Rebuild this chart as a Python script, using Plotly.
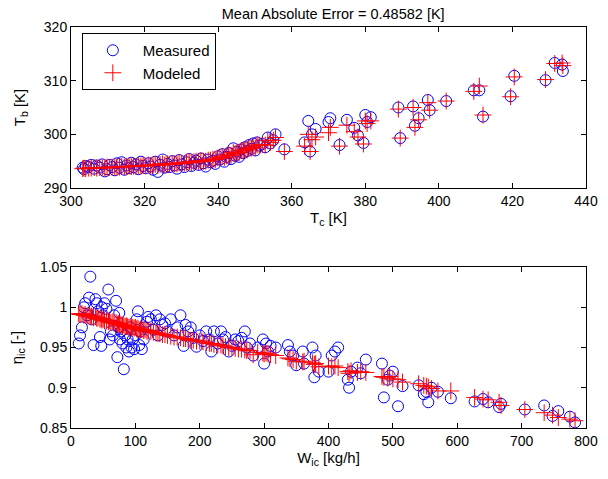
import plotly.graph_objects as go
from plotly.subplots import make_subplots

# top subplot: charge-air temperature vs. boost temperature
tc = [303.2, 303.5, 304.0, 304.8, 305.5, 306.3, 307.0, 307.8, 308.5, 309.2, 309.8, 310.5,
      311.2, 311.9, 312.5, 313.2, 313.8, 314.5, 315.1, 315.8, 316.4, 317.0, 317.7, 318.3,
      319.0, 319.6, 320.3, 321.0, 321.6, 322.3, 322.9, 323.6, 324.2, 324.9, 325.5, 326.2,
      326.8, 327.5, 328.1, 328.8, 329.4, 330.1, 330.8, 331.4, 332.1, 332.7, 333.4, 334.0,
      334.7, 335.3, 336.0, 336.6, 337.3, 337.9, 338.6, 339.2, 339.9, 340.5, 341.1, 341.7,
      342.3, 342.9, 343.5, 344.1, 344.6, 345.2, 345.7, 346.3, 346.8, 347.3, 347.9, 348.4,
      349.0, 349.5, 350.1, 350.6, 351.2, 352.0, 352.8, 353.5, 354.2, 355.0, 355.6,
      358.0, 363.5, 364.5, 365.0, 365.5, 366.5, 370.0, 370.5, 373.0, 375.0, 377.0, 378.0,
      379.5, 380.0, 380.5, 381.5, 389.0, 389.5, 393.0, 393.5, 394.5, 397.0, 397.5, 402.0,
      409.5, 411.0, 412.0, 419.5, 420.5, 429.0, 431.5, 433.5, 433.7]
tb_meas = [293.8, 293.5, 294.1, 293.9, 294.3, 293.6, 294.2, 293.8, 294.4, 293.1, 293.5, 294.3,
           293.9, 293.3, 294.6, 293.8, 294.8, 293.4, 294.2, 293.7, 294.7, 293.9, 294.4, 293.5,
           294.9, 294.1, 293.7, 294.6, 294.0, 293.4, 294.9, 293.0, 294.3, 295.3, 293.8, 294.5,
           293.9, 295.0, 294.2, 293.6, 295.2, 294.4, 293.9, 294.8, 295.4, 294.1, 294.7, 295.1,
           294.3, 295.5, 294.6, 294.0, 295.3, 294.8, 295.1, 294.5, 295.9, 295.3, 296.3, 294.9,
           295.8, 296.5, 295.4, 297.4, 296.0, 296.8, 295.8, 297.2, 296.5, 297.6, 296.9, 298.0,
           297.3, 298.3, 297.0, 298.5, 297.9, 298.2, 297.6, 299.4, 298.3, 298.9, 300.0,
           297.2, 298.5, 302.5, 296.8, 300.0, 301.0, 302.3, 303.0, 298.0, 302.7, 301.2, 299.8,
           298.4, 303.6, 302.3, 303.2, 305.0, 299.3, 305.2, 301.6, 303.0, 306.4, 304.5, 306.2,
           308.2, 308.2, 303.3, 307.1, 310.9, 310.1, 313.3, 313.0, 311.8]
tb_mod = [293.6, 293.7, 293.6, 293.7, 293.7, 293.8, 293.7, 293.8, 293.8, 293.7, 293.9, 293.8,
          293.9, 293.8, 294.0, 293.9, 294.0, 293.9, 294.0, 294.1, 294.0, 294.1, 294.0, 294.2,
          294.1, 294.2, 294.1, 294.3, 294.2, 294.2, 294.4, 294.2, 294.4, 294.5, 294.3, 294.5,
          294.4, 294.6, 294.5, 294.5, 294.7, 294.6, 294.6, 294.8, 294.9, 294.7, 294.9, 295.0,
          294.9, 295.1, 295.0, 295.0, 295.2, 295.2, 295.4, 295.3, 295.6, 295.6, 295.9, 295.7,
          296.0, 296.2, 296.1, 296.6, 296.4, 296.7, 296.6, 297.0, 296.9, 297.2, 297.1, 297.5,
          297.4, 297.8, 297.5, 298.0, 297.9, 298.1, 298.0, 298.8, 298.5, 298.9, 299.4,
          296.8, 297.8, 300.0, 296.8, 299.0, 299.5, 300.3, 301.3, 297.8, 301.7, 300.5, 299.5,
          298.2, 302.5, 302.0, 302.5, 304.7, 299.3, 305.0, 301.3, 302.7, 305.9, 304.5, 306.2,
          308.0, 309.0, 303.6, 307.0, 310.7, 310.2, 313.2, 313.3, 312.8]

# bottom subplot: intercooler mass flow vs. efficiency
w_ic = [12, 14, 17, 20, 22, 25, 28, 30, 32, 35, 38, 40, 42, 45, 47, 48, 50, 52, 55, 58,
        60, 62, 65, 67, 70, 72, 74, 75, 76, 78, 80, 82, 84, 86, 88, 90, 92, 94, 96, 98,
        100, 102, 104, 106, 108, 110, 113, 115, 118, 120, 124, 128, 132, 135, 138, 142, 146,
        150, 155, 160, 165, 170, 175, 178, 182, 186, 190, 195, 200, 205, 210, 215, 218, 222,
        228, 233, 236, 240, 245, 250, 255, 260, 265, 270, 273, 278, 283, 290, 298, 300, 303,
        306, 310, 318, 337, 340, 345, 350, 360, 362, 375, 378, 380, 385, 400, 405, 410, 415,
        430, 432, 435, 445, 450, 458, 483, 486, 492, 495, 500, 508, 515, 540, 548, 552, 555,
        560, 570, 590, 627, 640, 648, 665, 668, 705, 735, 748, 757, 775, 783]
eta_meas = [0.955, 0.965, 0.975, 1.0, 1.005, 0.99, 1.012, 1.038, 0.985, 0.953, 1.01, 1.005,
            0.995, 0.963, 0.952, 1.0, 0.99, 1.005, 0.998, 1.022, 0.96, 0.97, 0.965, 0.99,
            1.008, 0.938, 0.975, 0.993, 0.96, 0.97, 0.955, 0.923, 0.965, 0.95, 0.96, 0.945,
            0.975, 0.95, 0.96, 0.948, 0.965, 0.985, 0.995, 0.953, 0.97, 0.948, 0.96, 0.975,
            0.982, 0.988, 0.985, 0.972, 0.99, 0.965, 0.985, 0.978, 0.98, 0.97, 0.985, 0.965,
            0.975, 0.99, 0.952, 0.978, 0.97, 0.975, 0.962, 0.951, 0.965, 0.958, 0.97, 0.96,
            0.945, 0.97, 0.955, 0.97, 0.96, 0.963, 0.945, 0.952, 0.96, 0.958, 0.962, 0.97,
            0.95, 0.955, 0.94, 0.95, 0.96, 0.93, 0.955, 0.945, 0.952, 0.95, 0.953, 0.945,
            0.94, 0.928, 0.945, 0.93, 0.95, 0.913, 0.94, 0.92, 0.92, 0.94, 0.945, 0.95,
            0.91, 0.9, 0.92, 0.925, 0.918, 0.935, 0.93, 0.888, 0.91, 0.915, 0.92, 0.877,
            0.902, 0.903, 0.892, 0.895, 0.882, 0.9, 0.895, 0.887, 0.883, 0.886, 0.882, 0.876,
            0.88, 0.873, 0.878, 0.865, 0.871, 0.864, 0.857]
eta_mod = [0.992, 0.991, 0.992, 0.990, 0.991, 0.989, 0.990, 0.988, 0.989, 0.987, 0.988, 0.986,
           0.987, 0.985, 0.986, 0.984, 0.985, 0.983, 0.984, 0.982, 0.983, 0.981, 0.982, 0.980,
           0.981, 0.979, 0.980, 0.978, 0.979, 0.978, 0.977, 0.978, 0.976, 0.977, 0.976, 0.975,
           0.976, 0.974, 0.975, 0.974, 0.975, 0.973, 0.974, 0.972, 0.973, 0.972, 0.971, 0.972,
           0.970, 0.971, 0.970, 0.969, 0.968, 0.968, 0.967, 0.966, 0.966, 0.965, 0.964, 0.963,
           0.963, 0.962, 0.961, 0.961, 0.960, 0.959, 0.959, 0.958, 0.958, 0.957, 0.956, 0.955,
           0.955, 0.954, 0.953, 0.953, 0.952, 0.951, 0.950, 0.950, 0.949, 0.948, 0.948, 0.947,
           0.946, 0.946, 0.941, 0.944, 0.943, 0.942, 0.943, 0.942, 0.941, 0.940, 0.937, 0.936,
           0.935, 0.933, 0.932, 0.933, 0.931, 0.929, 0.930, 0.926, 0.927, 0.926, 0.927, 0.925,
           0.920, 0.918, 0.921, 0.919, 0.920, 0.919, 0.914, 0.913, 0.912, 0.914, 0.911, 0.910,
           0.907, 0.905, 0.903, 0.902, 0.901, 0.899, 0.896, 0.896, 0.888, 0.886, 0.885, 0.882,
           0.878, 0.873, 0.869, 0.866, 0.863, 0.861, 0.859]

mae_text = "Mean Absolute Error = 0.48582 [K]"

circ = dict(symbol="circle-open", size=11, color="#0000ff", line=dict(width=1, color="#0000ff"))
plus = dict(symbol="cross-thin-open", size=12, color="#ff0000", line=dict(width=1, color="#ff0000"))

fig = make_subplots(rows=2, cols=1, vertical_spacing=0.197)

fig.add_trace(go.Scatter(x=tc, y=tb_meas, mode="markers", marker=circ, name="Measured",
                         legendgroup="m"), row=1, col=1)
fig.add_trace(go.Scatter(x=tc, y=tb_mod, mode="markers", marker=plus, name="Modeled",
                         legendgroup="p"), row=1, col=1)
fig.add_trace(go.Scatter(x=w_ic, y=eta_meas, mode="markers", marker=circ, showlegend=False), row=2, col=1)
fig.add_trace(go.Scatter(x=w_ic, y=eta_mod, mode="markers", marker=plus, showlegend=False), row=2, col=1)

ax = dict(showline=True, linecolor="black", linewidth=1, mirror="ticks", ticks="inside",
          ticklen=5, tickcolor="black", showgrid=False, zeroline=False, automargin=False,
          tickfont=dict(size=14, color="black"))

fig.update_xaxes(ax)
fig.update_yaxes(ax)
fig.update_xaxes(range=[300, 440], dtick=20, title=dict(text="T<sub>c</sub> [K]", standoff=4,
                 font=dict(size=15)), row=1, col=1)
fig.update_yaxes(range=[290, 320], dtick=10, title=dict(text="T<sub>b</sub> [K]", standoff=14,
                 font=dict(size=15)), row=1, col=1)
fig.update_xaxes(range=[0, 800], dtick=100, title=dict(text="W<sub>ic</sub> [kg/h]", standoff=4,
                 font=dict(size=15)), row=2, col=1)
fig.update_yaxes(range=[0.85, 1.05], dtick=0.05, title=dict(text="η<sub>ic</sub> [-]", standoff=14,
                 font=dict(size=15)), row=2, col=1)

# page body adds an 8px offset, so the figure is drawn 8px smaller
fig.update_layout(
    width=600, height=471,
    margin=dict(l=63, r=22, t=19, b=51, autoexpand=False),
    paper_bgcolor="white", plot_bgcolor="white",
    font=dict(family="Liberation Sans, Arial, sans-serif", size=14, color="black"),
    title=dict(text=mae_text, x=0.542, xanchor="center", y=1.0, yanchor="top",
               pad=dict(t=1), font=dict(size=14.5)),
    legend=dict(x=0.021, y=0.985, xanchor="left", yanchor="top", bordercolor="black",
                borderwidth=1, bgcolor="white", font=dict(size=15), itemwidth=50,
                tracegroupgap=0),
)

fig.write_html("out.html")
